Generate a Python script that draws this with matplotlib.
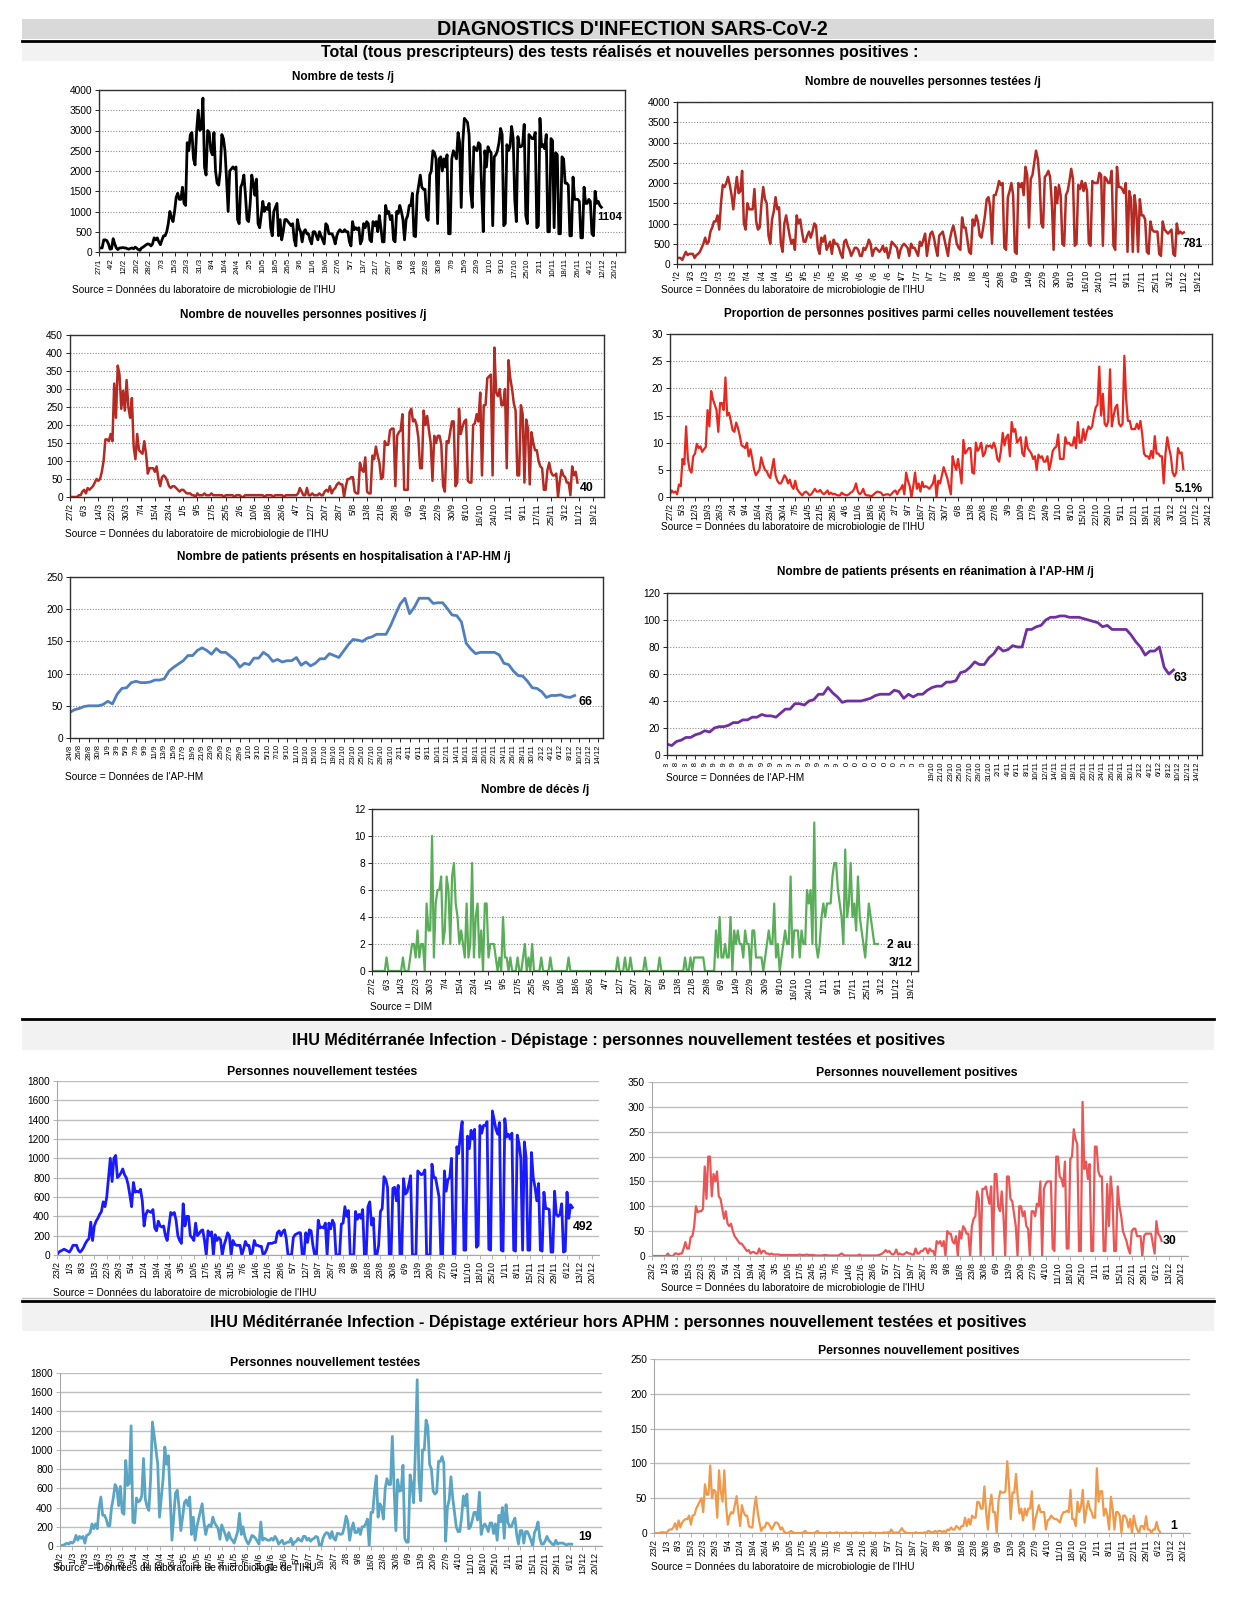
import numpy as np
import matplotlib
matplotlib.use('Agg')
import matplotlib.pyplot as plt
from matplotlib.patches import Rectangle

W, H = 1238, 1614
plt.rcParams['font.family'] = ['Liberation Sans', 'DejaVu Sans']

# ---------------- tick labels ----------------
labels_27jan_8d = ['27/1', '4/2', '12/2', '20/2', '28/2', '7/3', '15/3', '23/3', '31/3', '8/4',
                   '16/4', '24/4', '2/5', '10/5', '18/5', '26/5', '3/6', '11/6', '19/6', '27/6',
                   '5/7', '13/7', '21/7', '29/7', '6/8', '14/8', '22/8', '30/8', '7/9', '15/9',
                   '23/9', '1/10', '9/10', '17/10', '25/10', '2/11', '10/11', '18/11', '26/11',
                   '4/12', '12/12', '20/12']
labels_27feb_8d = ['27/2', '6/3', '14/3', '22/3', '30/3', '7/4', '15/4', '23/4', '1/5', '9/5',
                   '17/5', '25/5', '2/6', '10/6', '18/6', '26/6', '4/7', '12/7', '20/7', '28/7',
                   '5/8', '13/8', '21/8', '29/8', '6/9', '14/9', '22/9', '30/9', '8/10', '16/10',
                   '24/10', '1/11', '9/11', '17/11', '25/11', '3/12', '11/12', '19/12']
labels_27feb_7d = ['27/2', '5/3', '12/3', '19/3', '26/3', '2/4', '9/4', '16/4', '23/4', '30/4',
                   '7/5', '14/5', '21/5', '28/5', '4/6', '11/6', '18/6', '25/6', '2/7', '9/7',
                   '16/7', '23/7', '30/7', '6/8', '13/8', '20/8', '27/8', '3/9', '10/9', '17/9',
                   '24/9', '1/10', '8/10', '15/10', '22/10', '29/10', '5/11', '12/11', '19/11',
                   '26/11', '3/12', '10/12', '17/12', '24/12']
labels_24aug_2d = ['24/8', '26/8', '28/8', '30/8', '1/9', '3/9', '5/9', '7/9', '9/9', '11/9',
                   '13/9', '15/9', '17/9', '19/9', '21/9', '23/9', '25/9', '27/9', '29/9', '1/10',
                   '3/10', '5/10', '7/10', '9/10', '11/10', '13/10', '15/10', '17/10', '19/10',
                   '21/10', '23/10', '25/10', '27/10', '29/10', '31/10', '2/11', '4/11', '6/11',
                   '8/11', '10/11', '12/11', '14/11', '16/11', '18/11', '20/11', '22/11', '24/11',
                   '26/11', '28/11', '30/11', '2/12', '4/12', '6/12', '8/12', '10/12', '12/12',
                   '14/12']
labels_23feb_7d = ['23/2', '1/3', '8/3', '15/3', '22/3', '29/3', '5/4', '12/4', '19/4', '26/4',
                   '3/5', '10/5', '17/5', '24/5', '31/5', '7/6', '14/6', '21/6', '28/6', '5/7',
                   '12/7', '19/7', '26/7', '2/8', '9/8', '16/8', '23/8', '30/8', '6/9', '13/9',
                   '20/9', '27/9', '4/10', '11/10', '18/10', '25/10', '1/11', '8/11', '15/11',
                   '22/11', '29/11', '6/12', '13/12', '20/12']

# ---------------- daily values ----------------
# tests per day, from 27/1
tests = [
    100, 100, 100, 300, 300, 280, 200,
    70, 80, 330, 200, 100, 60, 100,
    100, 110, 100, 100, 80, 70, 90,
    100, 80, 120, 90, 60, 40, 100,
    120, 150, 180, 200, 190, 150, 200,
    350, 300, 350, 250, 180, 300, 400,
    400, 500, 700, 1000, 850, 750, 1000,
    1350, 1450, 1300, 1300, 1600, 1200, 1150,
    2700, 2500, 2900, 2950, 2300, 2150, 3000,
    3500, 3000, 3050, 3800, 2100, 1900, 3000,
    2950, 2500, 2400, 2950, 2000, 1700, 1650,
    2000, 2900, 2800, 2500, 1800, 1000, 2000,
    2050, 2100, 2050, 2100, 800, 700, 1600,
    1700, 1900, 1400, 800, 750, 1200, 1900,
    1700, 1400, 1800, 700, 600, 900, 1250,
    1000, 1100, 1050, 1200, 600, 400, 1000,
    1100, 1200, 400, 800, 300, 500, 800,
    800, 750, 700, 650, 700, 300, 150,
    800, 600, 500, 250, 500, 550, 450,
    450, 300, 200, 500, 500, 400, 300,
    500, 400, 300, 200, 700, 650, 450,
    450, 450, 350, 200, 400, 500, 550,
    500, 500, 550, 500, 500, 250, 150,
    750, 550, 600, 550, 600, 200, 300,
    700, 600, 750, 700, 300, 250, 750,
    650, 750, 500, 900, 600, 250, 250,
    1150, 950, 1000, 800, 900, 300, 250,
    1000, 950, 1150, 1000, 800, 300, 800,
    900, 1150, 1150, 1450, 400, 380, 1400,
    1650, 1900, 1600, 1550, 1550, 850, 780,
    1900, 2000, 2500, 2450, 2300, 700, 2300,
    2350, 2000, 2300, 2100, 2400, 450, 450,
    2300, 2500, 2400, 2300, 2950, 2700, 1100,
    2700, 3300, 3250, 3200, 2900, 1500, 1100,
    2600, 2550, 2500, 2700, 2650, 1500, 500,
    2500, 2100, 2600, 2500, 2450, 650, 2350,
    2400, 2500, 2700, 3050, 2900, 650, 700,
    2650, 2500, 2600, 3100, 2800, 1300, 750,
    2850, 2600, 2600, 2650, 3150, 900, 700,
    2900, 2850, 2800, 2800, 2950, 600, 650,
    3300, 2600, 2650, 2550, 2900, 500, 500,
    2800, 2750, 600, 2450, 2400, 450, 450,
    2350, 2300, 1700, 1700, 1650, 400, 400,
    1850, 1300, 1300, 1300, 1250, 350, 350,
    1600, 1200, 1200, 1300, 1250, 450, 400,
    1500, 1200, 1250, 1150, 1104,
]

# new persons tested, from 27/2
new_tested = [
    150, 150, 150, 100, 200, 300, 220,
    250, 250, 250, 150, 220, 250, 300,
    400, 500, 650, 500, 550, 800, 900,
    1050, 1050, 1200, 850, 1500, 1950, 1900,
    2000, 2150, 1950, 1700, 1350, 1800, 2150,
    1750, 1800, 2300, 1000, 850, 1500, 1350,
    1350, 1350, 1850, 1050, 850, 900, 1500,
    1900, 1600, 1500, 700, 500, 1100, 1300,
    1650, 1350, 1400, 500, 300, 1000, 1200,
    950, 700, 500, 600, 350, 1200, 1000,
    1100, 800, 550, 550, 700, 800, 650,
    800, 1000, 950, 400, 250, 650, 550,
    700, 350, 450, 550, 250, 600, 500,
    500, 400, 250, 150, 550, 600, 450,
    350, 200, 300, 400, 400, 350, 200,
    200, 400, 350, 450, 600, 500, 200,
    350, 400, 350, 300, 350, 450, 300,
    400, 150, 300, 550, 500, 450, 400,
    150, 350, 450, 500, 450, 400, 200,
    500, 400, 400, 300, 200, 550, 450,
    600, 750, 200, 500, 750, 800, 650,
    400, 200, 700, 750, 800, 600, 400,
    200, 600, 800, 950, 750, 500, 400,
    350, 1150, 900, 900, 600, 300, 250,
    1100, 950, 1200, 1050, 700, 650, 900,
    1200, 1600, 1650, 1400, 500, 1700, 1700,
    1850, 2050, 1950, 2000, 400, 350, 1650,
    1800, 2000, 1700, 300, 250, 2000, 1900,
    2000, 1700, 2400, 2200, 900, 2100, 2200,
    2500, 2800, 2600, 2100, 1000, 900, 2150,
    2200, 2300, 2150, 1500, 350, 1900, 1500,
    1950, 1700, 500, 450, 1700, 1800, 2050,
    2350, 2100, 450, 500, 1950, 1850, 2050,
    1800, 2000, 1800, 500, 450, 2050, 2000,
    2000, 2000, 2250, 2200, 450, 2150, 2100,
    2000, 2000, 2300, 450, 350, 2400, 1900,
    1900, 1850, 1750, 2000, 300, 1800, 1600,
    300, 1700, 1300, 300, 1600, 1200, 1200,
    1100, 300, 250, 1050, 850, 800, 800,
    800, 250, 200, 1050, 850, 800, 750,
    800, 850, 250, 200, 1000, 750, 800,
    750, 781,
]

# new positive persons, from 27/2
new_positive = [
    0, 0, 0, 0, 0, 5, 5,
    15, 20, 10, 25, 20, 25, 30,
    40, 50, 45, 50, 70, 100, 160,
    160, 155, 175, 155, 315, 220, 365,
    340, 245, 295, 240, 325, 250, 220,
    275, 140, 105, 175, 130, 125, 120,
    155, 120, 65, 80, 80, 80, 70,
    85, 50, 30, 55, 60, 55, 45,
    30, 25, 30, 30, 25, 20, 15,
    20, 20, 15, 10, 10, 10, 5,
    5, 0, 10, 5, 5, 5, 10,
    5, 5, 5, 10, 5, 5, 5,
    5, 5, 5, 0, 5, 5, 5,
    5, 5, 0, 5, 5, 5, 0,
    0, 5, 5, 5, 5, 5, 5,
    5, 5, 5, 5, 5, 0, 5,
    5, 5, 5, 0, 5, 5, 5,
    5, 5, 0, 5, 5, 5, 5,
    5, 5, 5, 10, 25, 15, 5,
    5, 25, 5, 5, 10, 5, 5,
    5, 10, 5, 5, 15, 20, 15,
    30, 10, 20, 25, 35, 40, 35,
    35, 0, 30, 50, 50, 55, 55,
    15, 10, 10, 95, 75, 70, 110,
    15, 10, 10, 115, 105, 140, 115,
    95, 50, 55, 155, 145, 145, 185,
    190, 190, 30, 170, 180, 185, 230,
    20, 20, 20, 235, 245, 210, 215,
    200, 165, 80, 80, 240, 200, 225,
    185, 150, 45, 170, 150, 170, 170,
    145, 30, 15, 155, 150, 180, 210,
    210, 30, 40, 245, 175, 195, 210,
    215, 45, 40, 40, 200, 205, 230,
    210, 290, 60, 255, 255, 330, 335,
    340, 60, 415, 290, 280, 300, 255,
    255, 300, 80, 380, 330, 300, 260,
    240, 60, 60, 255, 230, 40, 215,
    190, 35, 180, 150, 130, 130, 100,
    85, 80, 20, 20, 75, 95, 70,
    60, 60, 65, 0, 45, 75, 60,
    55, 40, 40, 5, 85, 60, 70,
    40,
]

# share of positives among newly tested (%), from 27/2
positive_rate = [
    0.5, 1.2, 0.8, 1.0, 0.5, 2.3, 2.0,
    7.0, 6.0, 13.0, 7.0, 5.0, 4.5, 7.5,
    8.0, 9.8, 9.0, 9.3, 8.3, 8.8, 9.2,
    16.0, 13.0, 19.5, 18.0, 17.0, 16.0, 12.0,
    17.3, 17.3, 16.0, 22.0, 15.0, 15.5, 14.0,
    12.3, 12.0, 13.7, 12.7, 11.3, 9.5, 9.3,
    9.0, 10.0, 7.5, 8.8, 7.0, 5.0, 4.0,
    4.5, 5.0, 7.3, 6.0, 5.0, 4.8, 4.0,
    3.5, 5.2, 7.0, 4.0, 3.0, 2.5, 2.5,
    3.2, 4.0, 3.5, 2.5, 3.2, 2.0, 1.5,
    3.0, 1.5, 1.0, 0.6, 0.3, 0.8, 1.0,
    0.7, 0.3, 0.5, 1.0, 1.5, 1.0, 1.0,
    1.3, 0.8, 0.5, 0.8, 1.2, 0.5, 0.8,
    0.5, 0.6, 0.4, 0.3, 0.3, 0.8, 0.5,
    0.4, 0.3, 0.5, 0.8, 1.0, 1.5, 2.5,
    1.0, 0.5, 0.8, 1.5, 0.5, 0.3, 0.3,
    0.2, 0.2, 0.5, 0.8, 1.0, 0.9, 0.8,
    0.3, 0.4, 0.5, 0.5, 0.3, 0.6, 1.0,
    1.2, 0.5, 1.2, 1.5, 2.2, 0.5, 4.5,
    3.0, 2.0, 0.0, 2.0, 4.5, 1.5, 2.5,
    1.0, 2.8, 1.8, 2.0, 1.8, 1.5, 2.0,
    2.5, 4.0, 0.0, 3.0, 2.5, 4.0, 5.5,
    4.5, 3.5, 2.0, 0.5, 7.5, 6.0, 5.0,
    7.0, 5.0, 2.5, 10.5, 8.0, 8.5, 9.0,
    9.0, 4.5, 4.3, 10.0, 8.5, 9.0, 10.0,
    7.5, 8.0, 9.5, 9.3, 9.5, 9.0, 10.0,
    9.0, 7.0, 6.5, 8.5, 11.8, 9.5, 11.0,
    11.5, 7.5, 13.8, 12.0, 12.5, 10.0, 10.5,
    11.0, 8.0, 7.5, 11.0, 9.0, 8.5, 8.0,
    7.0, 7.5, 5.0, 7.8, 7.2, 7.5, 6.5,
    6.5, 7.5, 5.0, 6.5, 8.5, 9.0, 9.3,
    11.5, 7.0, 7.0, 7.0, 11.0, 9.8, 10.0,
    9.5, 9.5, 11.0, 9.0, 13.8, 10.0, 10.0,
    12.5, 10.5, 12.0, 13.0, 12.5, 13.0, 15.0,
    16.5, 17.0, 24.0, 15.0, 19.0, 13.5, 13.0,
    14.0, 23.5, 13.0, 15.0, 16.5, 17.0, 13.5,
    13.0, 13.5, 26.0, 18.0, 14.0, 14.0, 12.5,
    12.5, 12.5, 13.5, 12.5, 14.0, 11.5, 8.0,
    7.5, 7.5, 7.0, 8.5, 7.2, 11.2, 8.0,
    8.0, 7.5, 7.5, 2.5, 8.0, 11.0, 9.0,
    7.5, 4.5, 3.8, 4.5, 9.0, 8.0, 8.2,
    5.1,
]

# patients in hospital at AP-HM, from 24/8
hospital = [
    40, 44, 46, 49, 50, 50, 50, 52, 57, 53,
    68, 77, 78, 86, 88, 86, 86, 87, 90, 90,
    92, 104, 110, 115, 120, 128, 128, 136, 140, 136,
    130, 139, 133, 133, 127, 121, 110, 116, 114, 124,
    124, 133, 128, 119, 122, 118, 120, 120, 125, 113,
    118, 112, 116, 123, 123, 131, 128, 125, 135, 145,
    153, 152, 150, 155, 157, 161, 161, 161, 175, 192,
    208, 217, 193, 203, 217, 217, 217, 209, 210, 210,
    201, 191, 190, 180, 147, 138, 131, 133, 133, 133,
    133, 129, 116, 114, 104, 97, 96, 88, 78, 77,
    72, 63, 66, 66, 67, 64, 63, 66,
]

# patients in intensive care at AP-HM, from 24/8
icu = [
    8, 7, 10, 11, 13, 13, 15, 16, 18, 17,
    20, 21, 21, 22, 24, 24, 26, 26, 28, 28,
    30, 29, 29, 28, 31, 34, 34, 38, 38, 37,
    40, 41, 45, 45, 50, 46, 43, 39, 40, 40,
    40, 40, 41, 42, 44, 45, 45, 45, 48, 47,
    42, 45, 43, 45, 45, 48, 50, 51, 51, 54,
    54, 55, 61, 62, 65, 69, 67, 67, 72, 75,
    80, 77, 78, 81, 80, 80, 93, 93, 95, 96,
    100, 102, 102, 103, 103, 102, 102, 102, 101, 100,
    99, 98, 95, 96, 93, 93, 93, 93, 89, 84,
    80, 74, 77, 77, 80, 65, 60, 63,
]

# deaths per day, from 27/2
deaths = [
    0, 0, 0, 0, 0, 0, 0,
    0, 1, 0, 0, 0, 0, 0,
    0, 0, 0, 1, 0, 0, 0,
    1, 2, 2, 1, 3, 1, 2,
    2, 0, 5, 3, 3, 10, 1,
    5, 6, 6, 7, 2, 3, 7,
    6, 2, 7, 8, 5, 4, 2,
    3, 2, 1, 5, 1, 2, 8,
    1, 4, 5, 1, 3, 0, 5,
    5, 1, 2, 2, 2, 1, 0,
    1, 0, 4, 1, 1, 0, 1,
    0, 0, 0, 1, 0, 0, 1,
    2, 0, 1, 0, 2, 0, 0,
    0, 0, 1, 0, 0, 0, 0,
    1, 0, 0, 0, 0, 0, 0,
    0, 0, 0, 1, 0, 0, 0,
    0, 0, 0, 0, 0, 0, 0,
    0, 0, 0, 0, 0, 0, 0,
    0, 0, 0, 0, 0, 0, 0,
    0, 0, 1, 0, 0, 0, 1,
    0, 0, 1, 0, 0, 0, 0,
    0, 0, 0, 1, 0, 0, 0,
    0, 0, 0, 0, 1, 0, 0,
    0, 0, 0, 0, 0, 0, 0,
    0, 0, 0, 0, 1, 0, 0,
    1, 0, 1, 1, 1, 1, 1,
    1, 0, 0, 0, 0, 0, 0,
    3, 1, 4, 1, 1, 2, 1,
    1, 4, 0, 3, 2, 3, 2,
    2, 1, 3, 2, 2, 0, 3,
    3, 1, 1, 1, 1, 0, 1,
    2, 3, 2, 2, 5, 1, 2,
    0, 1, 2, 3, 2, 2, 7,
    1, 3, 3, 3, 1, 3, 2,
    2, 6, 5, 6, 2, 11, 2,
    1, 2, 4, 5, 4, 5, 5,
    5, 7, 8, 8, 6, 5, 4,
    2, 9, 4, 5, 8, 4, 5,
    3, 7, 4, 3, 2, 1, 3,
    5, 4, 3, 2, 2, 2,
]

# IHU screening, newly tested, from 23/2
ihu_tested = [
    0, 30, 40, 50, 60, 50, 40,
    30, 60, 100, 100, 100, 50, 30,
    50, 80, 120, 150, 170, 340, 150,
    300, 350, 380, 420, 450, 550, 500,
    600, 800, 1000, 760, 1000, 1030, 800,
    820, 850, 890, 830, 800, 730, 620,
    500, 750, 650, 660, 650, 680, 560,
    300, 420, 460, 450, 440, 470, 280,
    250, 350, 300, 290, 300, 200, 150,
    300, 440, 420, 440, 360, 200, 150,
    120, 530, 300, 400, 400, 200, 180,
    150, 330, 200, 220, 250, 260, 150,
    0, 250, 200, 240, 0, 210, 150,
    180, 160, 0, 100, 160, 230, 200,
    0, 150, 110, 100, 100, 100, 0,
    60, 140, 100, 100, 0, 30, 150,
    100, 100, 90, 90, 0, 20, 60,
    120, 120, 120, 130, 130, 230, 250,
    200, 240, 260, 170, 0, 0, 0,
    180, 210, 220, 230, 230, 0, 0,
    230, 130, 260, 250, 100, 0, 0,
    360, 280, 290, 280, 330, 0, 330,
    270, 360, 320, 0, 0, 0, 320,
    330, 500, 400, 460, 0, 0, 0,
    450, 370, 420, 380, 470, 0, 0,
    500, 550, 310, 380, 0, 0, 100,
    450, 480, 810, 780, 700, 0, 0,
    690, 700, 560, 720, 0, 0, 790,
    630, 650, 730, 820, 0, 0, 0,
    870, 850, 830, 840, 880, 0, 0,
    0, 940, 800, 800, 700, 600, 0,
    0, 870, 660, 780, 800, 1000, 0,
    0, 1120, 1050, 1250, 1380, 50, 50,
    1230, 1100, 1290, 1200, 1300, 80, 100,
    1340, 1260, 1340, 1340, 1380, 60, 50,
    1490, 1400, 1300, 1250, 1370, 50, 40,
    1410, 1220, 1250, 1200, 1260, 50, 40,
    1240, 1150, 1000, 50, 1170, 1000, 50,
    50, 1060, 800, 700, 560, 740, 50,
    40, 650, 480, 480, 470, 30, 30,
    660, 420, 400, 420, 530, 30, 40,
    650, 380, 520, 492,
]

# IHU screening, newly positive, from 23/2
ihu_positive = [
    0, 0, 0, 0, 0, 0, 0,
    0, 0, 5, 0, 0, 0, 5,
    5, 3, 5, 5, 15, 28, 15,
    15, 38, 40, 60, 100, 88, 90,
    90, 95, 180, 115, 200, 200, 120,
    165, 150, 170, 120, 115, 95, 75,
    90, 65, 60, 65, 50, 40, 35,
    30, 25, 25, 20, 15, 10, 12,
    5, 8, 8, 5, 5, 15, 5,
    10, 10, 5, 5, 3, 5, 3,
    3, 3, 3, 2, 2, 2, 2,
    2, 2, 2, 2, 2, 2, 2,
    3, 2, 2, 2, 3, 2, 2,
    2, 2, 1, 1, 1, 1, 1,
    2, 2, 1, 1, 1, 1, 1,
    1, 1, 3, 5, 2, 1, 1,
    1, 1, 1, 1, 1, 1, 3,
    1, 1, 1, 1, 1, 1, 1,
    1, 1, 1, 2, 3, 5, 8,
    12, 8, 10, 5, 3, 5, 13,
    3, 5, 3, 3, 5, 8, 5,
    5, 3, 3, 15, 5, 5, 10,
    10, 15, 15, 5, 15, 10, 10,
    0, 30, 25, 30, 20, 30, 0,
    50, 45, 45, 30, 25, 40, 0,
    50, 35, 60, 55, 45, 45, 0,
    60, 75, 80, 130, 115, 0, 135,
    135, 140, 120, 105, 140, 0, 165,
    165, 100, 90, 130, 80, 0, 160,
    160, 115, 110, 85, 60, 0, 100,
    100, 80, 90, 60, 55, 0, 90,
    90, 80, 105, 100, 150, 0, 135,
    145, 150, 150, 150, 15, 10, 200,
    200, 160, 155, 140, 190, 15, 15,
    195, 200, 255, 235, 225, 10, 10,
    310, 175, 190, 155, 185, 10, 10,
    220, 220, 170, 160, 160, 10, 10,
    145, 60, 160, 120, 10, 10, 140,
    100, 80, 50, 40, 30, 15, 5,
    50, 55, 55, 40, 40, 40, 0,
    40, 45, 45, 45, 45, 25, 5,
    70, 45, 40, 30,
]

# outside screening (excluding APHM), newly tested, from 23/2
ext_tested = [
    0, 5, 10, 20, 30, 20, 40,
    30, 50, 110, 60, 100, 80, 100,
    30, 110, 120, 140, 230, 180, 230,
    180, 400, 510, 320, 320, 280, 210,
    210, 400, 500, 640, 600, 420, 620,
    350, 330, 890, 630, 650, 1250, 250,
    240, 500, 460, 470, 520, 910, 490,
    410, 370, 700, 1290, 1150, 1000, 850,
    300, 500, 700, 1030, 850, 940, 500,
    60, 300, 550, 580, 400, 160, 300,
    450, 480, 420, 510, 120, 300, 60,
    200, 280, 360, 440, 250, 120, 200,
    220, 200, 300, 240, 210, 180, 70,
    220, 170, 120, 60, 140, 80, 60,
    30, 90, 150, 340, 120, 200, 100,
    50, 20, 60, 110, 100, 80, 50,
    20, 250, 60, 80, 70, 60, 60,
    80, 60, 100, 70, 20, 40, 60,
    20, 30, 40, 40, 80, 10, 40,
    50, 80, 60, 50, 100, 100, 60,
    80, 50, 70, 80, 100, 90, 0,
    0, 80, 120, 140, 130, 80, 150,
    80, 60, 130, 130, 120, 130, 200,
    310, 250, 60, 170, 240, 140, 140,
    180, 120, 200, 200, 230, 280, 0,
    350, 350, 570, 730, 300, 440, 400,
    280, 600, 700, 640, 640, 1140, 600,
    160, 690, 570, 580, 840, 80, 40,
    40, 740, 640, 450, 1000, 1730, 680,
    470, 1000, 1000, 1310, 1240, 850, 800,
    570, 540, 560, 880, 880, 930, 860,
    50, 400, 480, 720, 500, 350, 200,
    150, 150, 300, 520, 420, 540, 180,
    200, 270, 350, 350, 270, 560, 120,
    200, 230, 200, 150, 240, 240, 130,
    230, 60, 320, 250, 400, 80, 430,
    250, 200, 200, 250, 290, 120, 20,
    160, 160, 30, 150, 150, 110, 60,
    0, 140, 180, 250, 80, 20, 20,
    50, 100, 60, 40, 20, 10, 60,
    20, 30, 30, 30, 20, 10, 20,
    20, 19,
]

# outside screening (excluding APHM), newly positive, from 23/2
ext_positive = [
    0, 0, 0, 0, 1, 1, 1,
    0, 3, 5, 5, 8, 14, 5,
    18, 8, 15, 18, 20, 20, 25,
    12, 25, 26, 35, 40, 45, 50,
    30, 70, 55, 55, 97, 50, 62,
    60, 22, 90, 60, 45, 90, 40,
    12, 25, 30, 28, 40, 53, 30,
    10, 40, 30, 25, 25, 10, 8,
    8, 35, 52, 30, 15, 3, 8,
    8, 15, 14, 10, 5, 10, 15,
    15, 12, 5, 8, 2, 0, 0,
    1, 3, 1, 0, 0, 0, 0,
    0, 1, 3, 0, 0, 0, 0,
    0, 1, 3, 0, 0, 0, 0,
    0, 0, 1, 0, 0, 0, 1,
    0, 0, 0, 0, 1, 0, 0,
    0, 0, 0, 1, 0, 0, 0,
    0, 0, 0, 0, 1, 0, 0,
    0, 0, 0, 0, 0, 1, 0,
    1, 1, 5, 1, 0, 1, 0,
    3, 7, 3, 1, 0, 0, 0,
    0, 0, 1, 0, 0, 0, 0,
    1, 0, 3, 2, 1, 1, 3,
    1, 3, 3, 1, 3, 1, 5,
    4, 8, 5, 5, 10, 8, 5,
    10, 10, 22, 10, 20, 12, 25,
    22, 22, 45, 44, 35, 35, 67,
    30, 5, 38, 55, 30, 30, 0,
    45, 60, 58, 58, 60, 103, 70,
    20, 58, 58, 85, 50, 28, 35,
    18, 35, 25, 35, 35, 60, 5,
    20, 30, 40, 30, 30, 30, 5,
    18, 20, 25, 22, 20, 20, 18,
    15, 25, 30, 30, 32, 30, 62,
    20, 20, 10, 45, 30, 38, 62,
    15, 32, 46, 35, 30, 22, 22,
    93, 45, 60, 60, 25, 35, 25,
    5, 52, 35, 5, 30, 30, 25,
    0, 25, 25, 20, 8, 20, 0,
    25, 12, 5, 0, 10, 10, 5,
    24, 5, 5, 0, 5, 5, 16,
    5, 1,
]

SOURCE_IHU = "Source = Données du laboratoire de microbiologie de l'IHU"
SOURCE_APHM = "Source = Données de l'AP-HM"

fig = plt.figure(figsize=(W / 100, H / 100), dpi=100)


def fx(x):
    return x / W


def fy(y):
    return 1 - y / H


def band(y0, y1, color, x0=22, x1=1214):
    fig.add_artist(Rectangle((fx(x0), fy(y1)), (x1 - x0) / W, (y1 - y0) / H,
                             transform=fig.transFigure, facecolor=color, lw=0, zorder=-2))


def rule(y, x0=22, x1=1214, lw=2.0, color='black'):
    fig.add_artist(plt.Line2D([fx(x0), fx(x1)], [fy(y), fy(y)], color=color, lw=lw,
                              transform=fig.transFigure))


def cover(x0, y0, x1, y1):
    # white box hiding part of the date labels, as in the original sheet
    fig.add_artist(Rectangle((fx(x0), fy(y1)), (x1 - x0) / W, (y1 - y0) / H,
                             transform=fig.transFigure, facecolor='white', lw=0, zorder=5))


def text(x, y, s, size=8.5, bold=True, ha='center'):
    fig.text(fx(x), fy(y), s, ha=ha, va='center', fontsize=size,
             fontweight='bold' if bold else 'normal', zorder=6)


def source(x, y, s):
    text(x, y, s, size=7.3, bold=False, ha='left')


def panel(box, values, labels, step, xmax, ymax, ystep, color, lw=1.8, framed=True, xsize=6.3):
    l, t, r, b = box
    ax = fig.add_axes([fx(l), fy(b), (r - l) / W, (b - t) / H])
    ax.plot(np.arange(len(values)), values, color=color, lw=lw, solid_joinstyle='round')
    ax.set_xlim(0, xmax)
    ax.set_ylim(0, ymax)
    ax.set_yticks(np.arange(0, ymax + 1, ystep))
    ax.yaxis.set_major_formatter('{x:.0f}')
    ax.set_xticks(np.arange(len(labels)) * step)
    ax.set_xticklabels(labels, rotation=90, fontsize=xsize)
    ax.tick_params(axis='y', labelsize=7.3, length=3, width=0.6, pad=2)
    ax.tick_params(axis='x', length=3, width=0.6, pad=1.5)
    ax.set_axisbelow(True)
    if framed:
        ax.grid(axis='y', color='#8c8c8c', lw=0.8, ls=(0, (1, 1.5)))
        for s in ax.spines.values():
            s.set_color('#303030')
            s.set_linewidth(1.0)
    else:
        ax.grid(axis='y', color='#bfbfbf', lw=1.0)
        ax.spines['top'].set_visible(False)
        ax.spines['right'].set_visible(False)
        ax.spines['left'].set_color('#a6a6a6')
        ax.spines['bottom'].set_color('#a6a6a6')
        ax.tick_params(colors='#a6a6a6', labelcolor='black')
    return ax


def end_label(ax, values, s, dx, dy, ha='left', size=8.8):
    ax.annotate(s, (len(values) - 1, values[-1]), xytext=(dx, dy), textcoords='offset pixels',
                ha=ha, va='center', fontsize=size, fontweight='bold', annotation_clip=False)


# ---------------- headers ----------------
band(19, 39, '#d9d9d9')
rule(40.5)
band(42, 61, '#f2f2f2')
text(632, 29.5, "DIAGNOSTICS D'INFECTION SARS-CoV-2", size=14.2)
text(620, 52, "Total (tous prescripteurs) des tests réalisés et nouvelles personnes positives :", size=11.5)

rule(1019)
band(1021, 1050, '#f2f2f2')
text(619, 1041, "IHU Méditérranée Infection - Dépistage : personnes nouvellement testées et positives",
     size=11.6)

rule(1298, lw=1.0, color='#bfbfbf')
rule(1301)
band(1303, 1331, '#f2f2f2')
text(618, 1322, "IHU Méditérranée Infection - Dépistage extérieur hors APHM : personnes nouvellement "
     "testées et positives", size=11.6)

# ---------------- top block ----------------
ax = panel((99, 90, 625, 252), tests, labels_27jan_8d, 8, 334, 4000, 500, 'black', lw=2.0,
           xsize=5.6)
end_label(ax, tests, '1104', -4, -10, size=8.2)
text(343, 77, 'Nombre de tests /j')
source(72, 290, SOURCE_IHU)

ax = panel((677, 102, 1212, 264), new_tested, labels_27feb_8d, 8, 304, 4000, 500, '#b52a22')
end_label(ax, new_tested, '781', -1, -12)
text(923, 82, 'Nombre de nouvelles personnes testées /j')
cover(655, 281, 985, 300)
source(661, 290, SOURCE_IHU)

ax = panel((70, 335, 604, 497), new_positive, labels_27feb_8d, 8, 302, 450, 50, '#b52a22')
end_label(ax, new_positive, '40', 2, -5)
text(303, 315, 'Nombre de nouvelles personnes positives /j')
source(65, 534, SOURCE_IHU)

ax = panel((670, 334, 1212, 497), positive_rate, labels_27feb_7d, 7, 303, 30, 5, '#e8281e', lw=1.6)
end_label(ax, positive_rate, '5.1%', 5, -20, ha='center')
text(919, 314, 'Proportion de personnes positives parmi celles nouvellement testées')
source(661, 527, SOURCE_IHU)

ax = panel((70, 577, 603, 738), hospital, labels_24aug_2d, 2, 113, 250, 50, '#4f7fbf', lw=2.0,
           xsize=5.6)
end_label(ax, hospital, '66', 4, -7)
text(344, 557, "Nombre de patients présents en hospitalisation à l'AP-HM /j")
source(65, 777, SOURCE_APHM)

ax = panel((667, 593, 1202, 755), icu, labels_24aug_2d, 2, 113, 120, 20, '#7030a0', lw=2.0,
           xsize=5.6)
end_label(ax, icu, '63', 0, -8)
text(935, 572, "Nombre de patients présents en réanimation à l'AP-HM /j")
cover(655, 767, 925, 792)
source(666, 778, SOURCE_APHM)

ax = panel((372, 809, 918, 971), deaths, labels_27feb_8d, 8, 300, 12, 2, '#5aae5a', lw=1.6)
end_label(ax, deaths, '2 au', 21, -1, ha='center')
end_label(ax, deaths, '3/12', 23, -19, ha='center')
text(535, 790, 'Nombre de décès /j')
source(370, 1007, 'Source = DIM')

# ---------------- IHU screening ----------------
ax = panel((57, 1081, 599, 1255), ihu_tested, labels_23feb_7d, 7, 305, 1800, 200, '#1a1aff',
           lw=2.0, framed=False)
end_label(ax, ihu_tested, '492', 1, -20)
text(322, 1072, 'Personnes nouvellement testées', size=8.8)
source(53, 1293, SOURCE_IHU)

ax = panel((652, 1082, 1188, 1256), ihu_positive, labels_23feb_7d, 7, 305, 350, 50, '#eb5555',
           lw=1.6, framed=False)
end_label(ax, ihu_positive, '30', 1, 0)
text(917, 1073, 'Personnes nouvellement positives', size=8.8)
source(661, 1288, SOURCE_IHU)

# ---------------- outside screening ----------------
ax = panel((60, 1373, 602, 1546), ext_tested, labels_23feb_7d, 7, 305, 1800, 200, '#5ba5c4',
           lw=2.0, framed=False)
end_label(ax, ext_tested, '19', 6, 7)
text(325, 1363, 'Personnes nouvellement testées', size=8.8)
source(53, 1568, SOURCE_IHU)

ax = panel((654, 1359, 1190, 1533), ext_positive, labels_23feb_7d, 7, 305, 250, 50, '#f0994a',
           lw=1.6, framed=False)
end_label(ax, ext_positive, '1', 10, 6)
text(919, 1351, 'Personnes nouvellement positives', size=8.8)
source(651, 1567, SOURCE_IHU)

fig.savefig('out.png', dpi=100, facecolor='white')
